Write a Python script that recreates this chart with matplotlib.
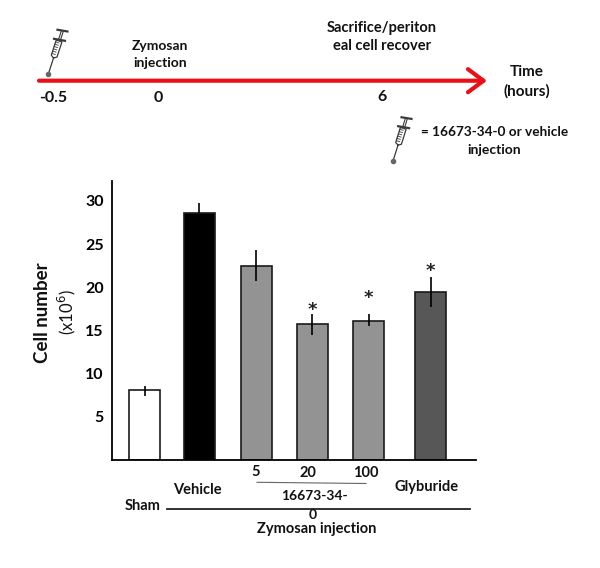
import numpy as np
import matplotlib
matplotlib.use('Agg')
import matplotlib.pyplot as plt
from matplotlib.patches import FancyArrowPatch

plt.rcParams['font.family'] = ['Lato', 'DejaVu Sans']

# values
groups = ['Sham', 'Vehicle', '5', '20', '100', 'Glyburide']
cells = [8.05, 28.6, 22.4, 15.7, 16.1, 19.4]
err_up = [0.55, 1.2, 1.9, 1.2, 0.8, 1.8]
err_down = [0.65, 0.0, 1.7, 1.2, 0.6, 1.7]
stars = [None, None, None, 17.4, 18.75, 21.9]
y_ticks = [5, 10, 15, 20, 25, 30]

# bar slots, in bar widths from the first bar
slots = [0, 1.74, 3.56, 5.35, 7.15, 9.13]
colors = ['white', 'black', '#939393', '#939393', '#939393', '#575757']

W, H = 600, 568
fig = plt.figure(figsize=(W / 100, H / 100), dpi=100)

# chart axes placed in pixels
left, right, top, bottom = 112, 476, 181, 460
ax = fig.add_axes([left / W, 1 - bottom / H, (right - left) / W, (bottom - top) / H])
ax.bar(slots, cells, width=1, color=colors, edgecolor='#1a1a1a', linewidth=1.2)
ax.errorbar(slots, cells, yerr=[err_down, err_up], fmt='none', ecolor='black', elinewidth=1.2)
for s, v in zip(slots, stars):
    if v is not None:
        ax.text(s, v, '*', ha='center', va='center', fontsize=13, fontweight='bold',
                fontfamily='DejaVu Sans', color='#222222')
ax.set_xlim(-1.048, 10.58)
ax.set_ylim(0, (bottom - top) / 8.64)
ax.spines['top'].set_visible(False)
ax.spines['right'].set_visible(False)
ax.spines['left'].set_linewidth(1.3)
ax.spines['bottom'].set_linewidth(1.3)
ax.set_xticks([])
ax.set_yticks(y_ticks)
ax.tick_params(axis='y', length=0, pad=6)
for lab in ax.get_yticklabels():
    lab.set_fontsize(11.5)
    lab.set_fontweight('bold')

# overlay in pixel coordinates for the timeline and the annotations
ov = fig.add_axes([0, 0, 1, 1], facecolor='none')
ov.set_xlim(0, W)
ov.set_ylim(H, 0)
ov.axis('off')


def label(x, y, s, size=10.5, weight='bold', **kw):
    ov.text(x, y, s, ha='center', va='center', fontsize=size, fontweight=weight,
            color='#111111', **kw)


def syringe(x0, y0, x1, y1):
    # needle tip (x0,y0) up to plunger end (x1,y1)
    p0, p1 = np.array([x0, y0]), np.array([x1, y1])
    d = p1 - p0
    L = np.hypot(*d)
    u = d / L
    n = np.array([-u[1], u[0]])
    pt = lambda a, b: p0 + u * a * L + n * b
    col = '#3a3a3a'
    ov.plot(*zip(pt(0.03, 0), pt(0.37, 0)), color=col, lw=0.9)
    ov.plot(*pt(0.02, 0), 'o', ms=3, color='#666666')
    body = [pt(0.37, 0), pt(0.41, 3), pt(0.74, 3), pt(0.74, -3), pt(0.41, -3), pt(0.37, 0)]
    ov.plot(*zip(*body), color=col, lw=0.9)
    for a in np.arange(0.45, 0.74, 0.05):
        ov.plot(*zip(pt(a, -3), pt(a, 0.5)), color=col, lw=0.6)
    ov.plot(*zip(pt(0.75, -5.5), pt(0.78, 5.5)), color=col, lw=1.6)
    ov.plot(*zip(pt(0.78, 1), pt(0.95, 1)), color=col, lw=0.8)
    ov.plot(*zip(pt(0.78, -1), pt(0.95, -1)), color=col, lw=0.8)
    ov.plot(*zip(pt(0.95, -5), pt(0.98, 5)), color=col, lw=1.6)


arrow = FancyArrowPatch((39, 80.7), (487, 80.7), arrowstyle='->,head_length=7,head_width=5.2',
                        color='#ea1018', lw=3, mutation_scale=1.6, shrinkA=0, shrinkB=0)
ov.add_patch(arrow)

syringe(48, 75, 63, 29)
syringe(392.7, 162, 407, 116.5)

label(160, 46, 'Zymosan', size=10)
label(160, 63, 'injection', size=10)
label(53, 98, '-0.5', size=11.5)
label(158, 98, '0', size=11.5)
label(382, 28, 'Sacrifice/periton')
label(382, 46, 'eal cell recover')
label(382, 97, '6', size=11.5)
label(527, 72, 'Time', size=11)
label(527, 91, '(hours)', size=11)
label(495, 132, '= 16673-34-0 or vehicle', size=9.8)
label(494, 150, 'injection', size=10)

label(43, 313, 'Cell number', size=13.5, rotation=90)
label(67, 312, '(x10$^{6}$)', size=12, weight='normal', rotation=90)

label(143, 506, 'Sham')
label(197, 490, 'Vehicle')
label(256, 472, '5')
label(308, 473, '20')
label(366, 473, '100')
label(427, 487, 'Glyburide')
label(314, 496, '16673-34-', size=10)
label(313, 515, '0', size=10)
label(316.5, 529, 'Zymosan injection')

ov.plot([257, 366], [482.3, 483.5], color='#666666', lw=0.8)
ov.plot([167, 470], [509.3, 509.3], color='#222222', lw=1.3)

fig.savefig('out.png', dpi=100)
